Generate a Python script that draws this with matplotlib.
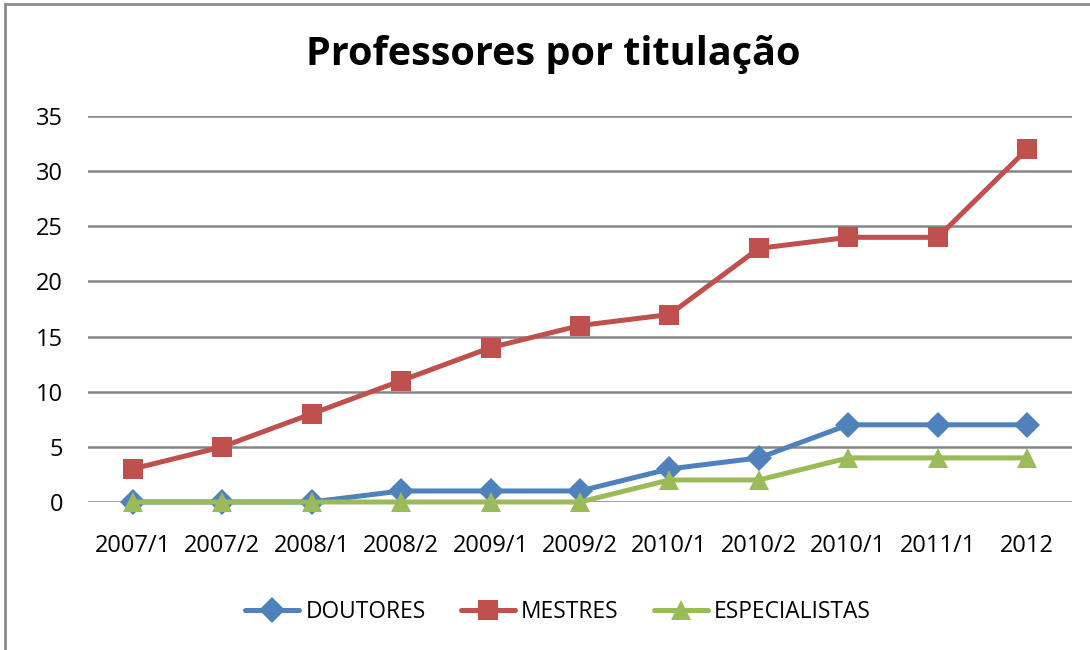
import matplotlib
matplotlib.use("Agg")
import matplotlib.pyplot as plt
from matplotlib.lines import Line2D

categories = ["2007/1", "2007/2", "2008/1", "2008/2", "2009/1", "2009/2",
              "2010/1", "2010/2", "2010/1", "2011/1", "2012"]
doutores = [0, 0, 0, 1, 1, 1, 3, 4, 7, 7, 7]
mestres = [3, 5, 8, 11, 14, 16, 17, 23, 24, 24, 32]
especialistas = [0, 0, 0, 0, 0, 0, 2, 2, 4, 4, 4]
yticks = [0, 5, 10, 15, 20, 25, 30, 35]

plt.rcParams['font.family'] = ['Open Sans', 'DejaVu Sans']

W, H = 1090, 650
fig = plt.figure(figsize=(W / 100, H / 100), dpi=100)
ax = fig.add_axes([88 / W, 1 - 502 / H, (1072 - 88) / W, (502 - 116) / H])

x = list(range(len(categories)))
series = [
    ("DOUTORES", doutores, "#4F81BD", "D", 13),
    ("MESTRES", mestres, "#C0504D", "s", 14),
    ("ESPECIALISTAS", especialistas, "#9BBB59", "^", 15),
]
handles = []
for name, vals, col, mk, ms in series:
    ln, = ax.plot(x, vals, color=col, lw=3.6, marker=mk, markersize=ms,
                  markeredgewidth=0, clip_on=False, zorder=3, label=name,
                  solid_capstyle='round', solid_joinstyle='round')
    handles.append(ln)

ax.set_xlim(-0.5, len(categories) - 0.5)
ax.set_ylim(0, 35)
ax.set_yticks(yticks)
ax.set_xticks(x)
ax.set_xticklabels(categories)
ax.grid(axis='y', color='#868686', lw=1.8, zorder=0)
ax.set_axisbelow(True)
for s in ax.spines.values():
    s.set_visible(False)
ax.tick_params(axis='both', length=0, labelsize=17, colors='black')
ax.tick_params(axis='x', pad=23)
ax.tick_params(axis='y', pad=18)

fig.text(553 / W, 1 - 55 / H, "Professores por titulação", ha='center',
         va='center', fontsize=28.5, fontweight='bold')

leg = fig.legend(handles=handles, loc='center', bbox_to_anchor=(558 / W, 1 - 612 / H),
                 ncol=3, frameon=False, fontsize=16.4, handlelength=2.37,
                 handletextpad=0.26, columnspacing=1.55, markerscale=1.0)

# outer chart border (left and top visible)
fig.add_artist(Line2D([5 / W, 5 / W], [0, 1 - 4 / H], transform=fig.transFigure,
                      color='#8c8c8c', lw=2))
fig.add_artist(Line2D([5 / W, 1], [1 - 4 / H, 1 - 4 / H], transform=fig.transFigure,
                      color='#8c8c8c', lw=2))

fig.savefig("out.png", dpi=100)
